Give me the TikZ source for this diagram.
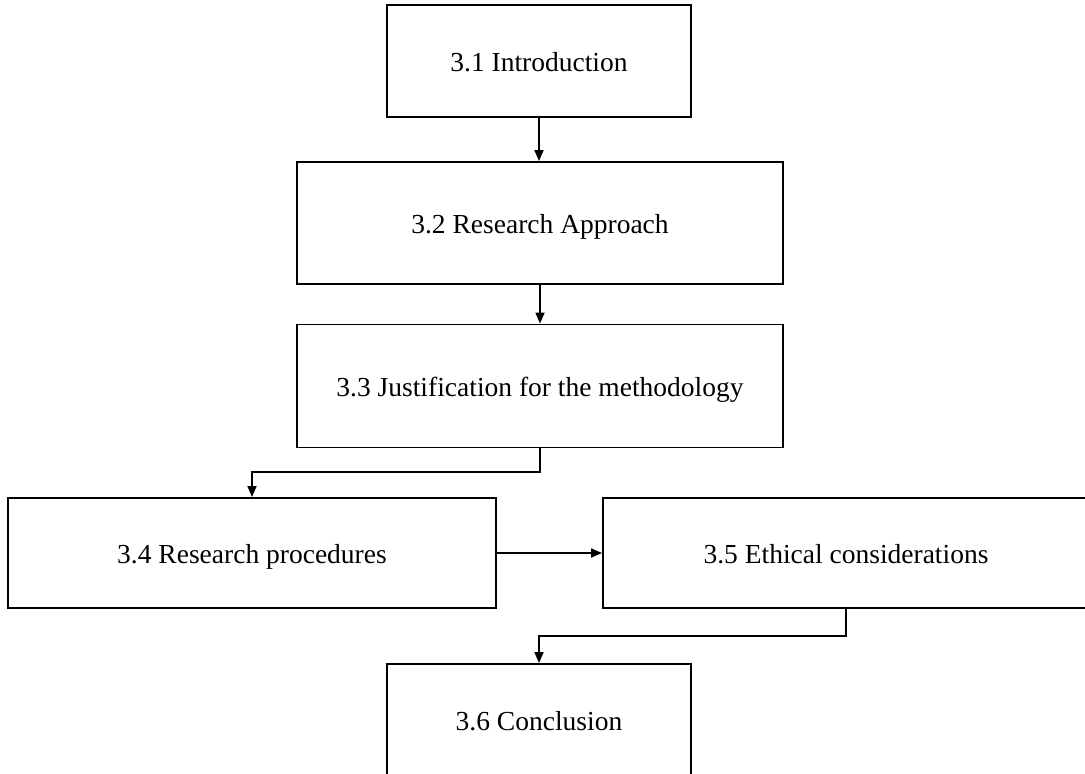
\documentclass[tikz,border=0pt]{standalone}
\usepackage{fontspec}
\setmainfont{Liberation Serif}
\usetikzlibrary{arrows.meta}
\begin{document}
\begin{tikzpicture}[x=1pt,y=-1pt,
  box/.style={draw=black, line width=1.9pt, rectangle, inner sep=0pt,
    font=\fontsize{27.5}{32}\selectfont, align=center,
    text height=18.2pt, text depth=0pt},
  flow/.style={line width=1.7pt, -{Triangle[length=11pt,width=9pt]}}]
\useasboundingbox (0,0) rectangle (1085,774);
\node[box, minimum width=304, minimum height=112] (intro) at (539,61) {\raisebox{-1.5pt}[18.2pt][0pt]{3.1 Introduction}};
\node[box, minimum width=486, minimum height=122] (appr) at (540,223) {\raisebox{-1.5pt}[18.2pt][0pt]{3.2 Research Approach}};
\node[box, minimum width=486, minimum height=123] (just) at (540,386) {\raisebox{-1.5pt}[18.2pt][0pt]{3.3 Justification for the methodology}};
\node[box, minimum width=488, minimum height=110] (proc) at (252,553) {\raisebox{-1.5pt}[18.2pt][0pt]{3.4 Research procedures}};
\node[box, minimum width=486, minimum height=110] (ethic) at (846,553) {\raisebox{-1.5pt}[18.2pt][0pt]{3.5 Ethical considerations}};
\node[box, minimum width=304, minimum height=112] (concl) at (539,720) {\raisebox{-1.5pt}[18.2pt][0pt]{3.6 Conclusion}};
\draw[flow] (intro.south) -- (intro.south |- appr.north);
\draw[flow] (appr.south) -- (appr.south |- just.north);
\coordinate (k1) at (540,472);
\draw[flow] (just.south) -- (just.south |- k1) -| (proc.north);
\draw[flow] (proc.east) -- (ethic.west);
\coordinate (k2) at (846,636);
\draw[flow] (ethic.south) -- (ethic.south |- k2) -| (concl.north);
\end{tikzpicture}
\end{document}
